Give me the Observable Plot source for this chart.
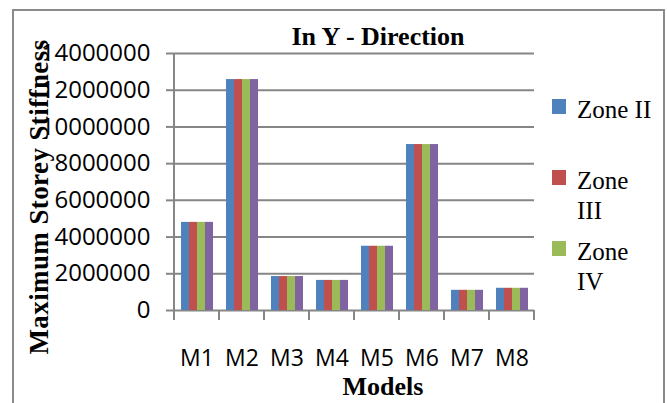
<!DOCTYPE html>
<html><head><meta charset="utf-8">
<script src="https://cdn.jsdelivr.net/npm/d3@7"></script>
<script src="https://cdn.jsdelivr.net/npm/@observablehq/plot@0.6"></script>
<style>
html,body{margin:0;padding:0;background:#fff;}
body{width:667px;height:403px;overflow:hidden;position:relative;}
#frame{position:absolute;left:12px;top:9px;width:653px;height:420px;border:2px solid #8a8a8a;box-sizing:border-box;}
#chart{position:absolute;left:0;top:0;}
.serif{font-family:"Liberation Serif",serif;color:#000;white-space:nowrap;line-height:1;}
#title{position:absolute;left:378px;top:24px;transform:translateX(-50%);font-size:26px;font-weight:bold;}
#ytitle{position:absolute;left:38.5px;top:197px;transform:translate(-50%,-50%) rotate(-90deg);font-size:27px;font-weight:bold;letter-spacing:0.4px;}
#xtitle{position:absolute;left:383px;top:377px;transform:translateX(-50%);font-size:26px;font-weight:bold;line-height:20px;}
#legend{position:absolute;left:552px;top:95px;width:112px;height:205px;overflow:hidden;}
.item{position:relative;height:71px;}
.sw{position:absolute;left:0;top:4px;width:14px;height:15px;}
.lt{position:absolute;left:25px;top:0;width:80px;font-family:"Liberation Serif",serif;font-size:25px;line-height:29.5px;color:#000;}
svg g[aria-label="y-axis tick"]{stroke:#868686 !important;stroke-width:2px;}
svg g[aria-label="y-axis tick"] path{stroke:#868686 !important;}
svg g[aria-label="y-axis tick label"]{font-size:24px;}
</style>
</head><body>
<div id="frame"></div>
<div id="chart"></div>
<div id="title" class="serif">In Y - Direction</div>
<div id="ytitle" class="serif">Maximum Storey Stiffness</div>
<div id="xtitle" class="serif">Models</div>
<div id="legend"></div>
<script>
const models = ["M1","M2","M3","M4","M5","M6","M7","M8"];
const zones = ["Zone II","Zone III","Zone IV","Zone V"];
const zoneColors = ["#4F81BD","#C0504D","#9BBB59","#8064A2"];
const zoneII  = [4800000,12580000,1850000,1640000,3500000,9040000,1100000,1210000];
const zoneIII = [4800000,12580000,1850000,1640000,3500000,9040000,1100000,1210000];
const zoneIV  = [4800000,12580000,1850000,1640000,3500000,9040000,1100000,1210000];
const zoneV   = [4800000,12580000,1850000,1640000,3500000,9040000,1100000,1210000];
const yTicks = [0,2000000,4000000,6000000,8000000,10000000,12000000,14000000];
// the reference legend box is clipped after the first three entries
const legendShown = 3;

const series = [zoneII, zoneIII, zoneIV, zoneV];
const rows = [];
models.forEach((m,i)=>zones.forEach((z,j)=>rows.push({model:m, zone:z, value:series[j][i]})));

const grid = "#868686";
const chart = Plot.plot({
  width:667, height:403,
  marginLeft:174, marginRight:133, marginTop:53, marginBottom:93,
  style:{fontFamily:"'Open Sans',sans-serif", fontSize:"23px", color:"#000", background:"transparent", overflow:"visible"},
  fx:{domain:models, padding:0, label:null, axis:"bottom", tickSize:0, tickPadding:39},
  x:{domain:zones, paddingInner:0, paddingOuter:0.8, axis:null},
  y:{domain:[0,14000000], ticks:yTicks, tickSize:8, tickPadding:16, tickFormat:d=>String(d), label:null},
  color:{domain:zones, range:zoneColors},
  marks:[
    Plot.ruleY(yTicks, {stroke:grid, strokeWidth:2}),
    Plot.barY(rows, {fx:"model", x:"zone", y:"value", fill:"zone"})
  ]
});
document.getElementById("chart").appendChild(chart);

// axis line and boundary ticks from the plot's own scales
const fx = chart.scale("fx"), ys = chart.scale("y");
const svg = d3.select(chart);
const g = svg.append("g").attr("stroke", grid).attr("stroke-width", 2);
const x0 = fx.apply(models[0]);
const y0 = ys.apply(0), yTop = ys.apply(yTicks[yTicks.length-1]);
g.append("line").attr("x1", x0).attr("x2", x0).attr("y1", yTop).attr("y2", y0);
const edges = models.map(m=>fx.apply(m)).concat([fx.apply(models[models.length-1]) + fx.bandwidth]);
edges.forEach(e=>g.append("line").attr("x1", e).attr("x2", e).attr("y1", y0).attr("y2", y0+10));

// legend
const lg = d3.select("#legend");
zones.slice(0, legendShown).forEach((z,i)=>{
  const it = lg.append("div").attr("class","item");
  it.append("div").attr("class","sw").style("background", zoneColors[i]);
  it.append("div").attr("class","lt").text(z);
});
</script>
</body></html>
